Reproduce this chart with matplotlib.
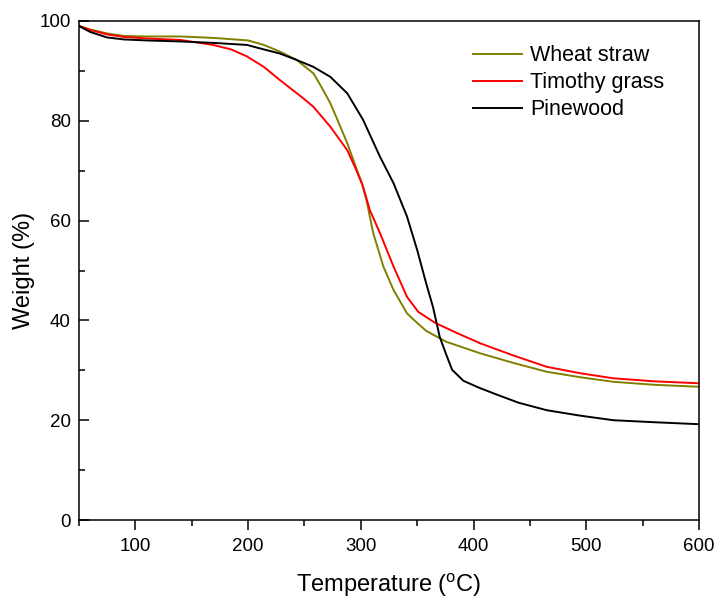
import matplotlib
matplotlib.use("Agg")
import matplotlib.pyplot as plt
from matplotlib.ticker import MultipleLocator

plt.rcParams['font.family'] = ['Liberation Sans', 'DejaVu Sans']

# TGA curves
wheat_T = [50, 60, 75, 90, 110, 140, 170, 200, 214, 228, 243, 258, 265, 273, 280, 288, 296, 301, 305, 311, 320,
           329, 341, 350, 358, 376, 406, 435, 465, 495, 524, 560, 600]
wheat_W = [99, 98.3, 97.5, 97.0, 96.9, 96.9, 96.6, 96.1, 95.2, 93.9, 92.2, 89.5, 86.8, 83.5, 79.8, 75.5, 70.5, 67.5,
           64.1, 57.5, 50.8, 46.1, 41.4, 39.5, 37.9, 35.7, 33.4, 31.5, 29.7, 28.6, 27.7, 27.1, 26.7]

timothy_T = [50, 60, 75, 90, 110, 140, 169, 185, 199, 214, 228, 249, 258, 273, 288, 296, 302, 308, 317, 329, 341,
             351, 366, 385, 406, 435, 465, 495, 524, 560, 600]
timothy_W = [99, 98.2, 97.3, 96.8, 96.5, 96.2, 95.2, 94.3, 92.9, 90.8, 88.2, 84.5, 82.8, 78.8, 74.1, 70.1, 66.8,
             62.1, 57.5, 50.8, 44.7, 41.7, 39.5, 37.5, 35.4, 33.0, 30.7, 29.4, 28.4, 27.8, 27.4]

pine_T = [50, 60, 75, 90, 110, 140, 170, 199, 214, 228, 243, 258, 273, 288, 302, 317, 329, 341, 350, 358, 364,
          370, 376, 381, 391, 405, 421, 440, 465, 495, 524, 560, 600]
pine_W = [99, 97.8, 96.7, 96.3, 96.1, 95.9, 95.6, 95.2, 94.3, 93.5, 92.2, 90.8, 88.8, 85.5, 80.2, 72.8, 67.5, 60.8,
          54.1, 47.4, 42.7, 36.7, 33.0, 30.1, 27.9, 26.5, 25.1, 23.5, 22.0, 20.9, 20.0, 19.6, 19.2]

fig = plt.figure(figsize=(7.16, 5.98), dpi=100)
ax = fig.add_axes([0.1103, 0.1304, 0.866, 0.8345])

ax.plot(wheat_T, wheat_W, color='#808000', lw=1.4, label='Wheat straw')
ax.plot(timothy_T, timothy_W, color='#ff0000', lw=1.4, label='Timothy grass')
ax.plot(pine_T, pine_W, color='black', lw=1.4, label='Pinewood')

ax.set_xlim(50, 600)
ax.set_ylim(0, 100)
ax.xaxis.set_major_locator(MultipleLocator(100))
ax.xaxis.set_minor_locator(MultipleLocator(50))
ax.yaxis.set_major_locator(MultipleLocator(20))
ax.yaxis.set_minor_locator(MultipleLocator(10))

for s in ax.spines.values():
    s.set_linewidth(1.1)
ax.tick_params(axis='x', which='major', direction='out', length=7, width=1.1, labelsize=13.5, pad=6)
ax.tick_params(axis='x', which='minor', direction='out', length=4, width=1.1)
ax.tick_params(axis='y', which='major', direction='in', length=7, width=1.1, labelsize=13.5, pad=6)
ax.tick_params(axis='y', which='minor', direction='in', length=4, width=1.1)

ax.set_xlabel('Temperature ($\\mathregular{^{o}}$C)', fontsize=17, labelpad=12)
ax.set_ylabel('Weight (%)', fontsize=17, labelpad=3)

ax.legend(loc='upper right', frameon=False, fontsize=15.5, handlelength=2.3, handletextpad=0.35,
          labelspacing=0.28, bbox_to_anchor=(0.975, 0.99))

fig.savefig('out.png', dpi=100)
